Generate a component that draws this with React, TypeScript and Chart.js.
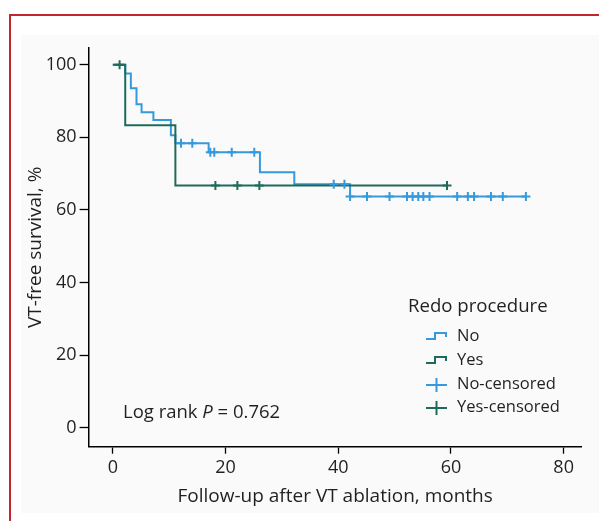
import { useEffect, useRef } from "react";
import { Chart, registerables } from "chart.js";

Chart.register(...registerables);

// ---- data (months, survival %) ----
const noTimes = [0, 2.2, 3.2, 4.2, 5.1, 7.2, 10.3, 11.1, 17.0, 26.1, 32.2, 42.1, 73.3];
const noSurvival = [100, 97.6, 93.5, 89.1, 86.9, 84.8, 80.6, 78.4, 75.9, 70.4, 67.1, 63.7, 63.7];
const yesTimes = [0, 2.2, 11.1, 59.3];
const yesSurvival = [100, 83.3, 66.7, 66.7];
const noCensoredTimes = [12.1, 14.1, 17.3, 18.0, 21.1, 25.1, 39.2, 41.1, 42.1, 45.1, 49.1, 52.2, 53.2, 54.2, 55.1, 56.2, 61.1, 63.0, 64.1, 67.1, 69.2, 73.3];
const noCensoredSurvival = [78.4, 78.4, 75.9, 75.9, 75.9, 75.9, 67.1, 67.1, 63.7, 63.7, 63.7, 63.7, 63.7, 63.7, 63.7, 63.7, 63.7, 63.7, 63.7, 63.7, 63.7, 63.7];
const yesCensoredTimes = [1.2, 18.2, 22.1, 26.0, 59.3];
const yesCensoredSurvival = [100, 66.7, 66.7, 66.7, 66.7];

const seriesNames = ["No", "Yes", "No-censored", "Yes-censored"];
const legendTitle = "Redo procedure";
const xTitle = "Follow-up after VT ablation, months";
const yTitle = "VT-free survival, %";
const pValueText = "0.762";

const BLUE = "#3699dc";
const GREEN = "#1f6b5b";
const TEXT = "#231f20";
const FONT = "'Open Sans', sans-serif";

const toPoints = (xs: number[], ys: number[]) => xs.map((x, i) => ({ x, y: ys[i] }));

const overlayPlugin = {
  id: "overlay",
  afterDatasetsDraw(chart: any) {
    const ctx = chart.ctx as CanvasRenderingContext2D;
    ctx.save();
    ctx.fillStyle = TEXT;
    ctx.textBaseline = "middle";
    ctx.textAlign = "left";
    // legend title
    ctx.font = `18.6px ${FONT}`;
    ctx.fillText(legendTitle, 408, 307);
    const rows = [336, 360, 384, 407];
    const colors = [BLUE, GREEN, BLUE, GREEN];
    ctx.font = `16.5px ${FONT}`;
    rows.forEach((y, i) => {
      ctx.strokeStyle = colors[i];
      ctx.lineWidth = 2;
      ctx.beginPath();
      if (i < 2) {
        ctx.moveTo(426, y + 3);
        ctx.lineTo(435, y + 3);
        ctx.lineTo(435, y - 3);
        ctx.lineTo(446, y - 3);
        ctx.lineTo(446, y + 1);
      } else {
        ctx.moveTo(426, y + 1);
        ctx.lineTo(447, y + 1);
        ctx.moveTo(436.5, y - 6);
        ctx.lineTo(436.5, y + 8);
      }
      ctx.stroke();
      ctx.fillStyle = TEXT;
      ctx.fillText(seriesNames[i], 457, y);
    });
    // log rank annotation
    const size = 18.5;
    ctx.font = `${size}px ${FONT}`;
    let x = 123;
    const y = 413;
    const a = "Log rank ";
    ctx.fillText(a, x, y);
    x += ctx.measureText(a).width;
    ctx.font = `italic ${size}px ${FONT}`;
    ctx.fillText("P", x, y);
    x += ctx.measureText("P").width;
    ctx.font = `${size}px ${FONT}`;
    ctx.fillText(" = " + pValueText, x, y);
    ctx.restore();
  },
};

export default function App() {
  const ref = useRef<HTMLCanvasElement | null>(null);
  useEffect(() => {
    if (!ref.current) return;
    const chart = new Chart(ref.current, {
      type: "line",
      data: {
        datasets: [
          {
            label: seriesNames[0],
            data: toPoints(noTimes, noSurvival),
            borderColor: BLUE,
            borderWidth: 2,
            stepped: "before",
            pointRadius: 0,
            fill: false,
            order: 2,
          },
          {
            label: seriesNames[1],
            data: toPoints(yesTimes, yesSurvival),
            borderColor: GREEN,
            borderWidth: 2,
            stepped: "before",
            pointRadius: 0,
            fill: false,
            order: 1,
          },
          {
            type: "scatter",
            label: seriesNames[2],
            data: toPoints(noCensoredTimes, noCensoredSurvival),
            borderColor: BLUE,
            backgroundColor: BLUE,
            pointStyle: "cross",
            pointRadius: 4.5,
            borderWidth: 2,
            showLine: false,
            order: 0,
          } as any,
          {
            type: "scatter",
            label: seriesNames[3],
            data: toPoints(yesCensoredTimes, yesCensoredSurvival),
            borderColor: GREEN,
            backgroundColor: GREEN,
            pointStyle: "cross",
            pointRadius: 4.5,
            borderWidth: 2,
            showLine: false,
            order: 0,
          } as any,
        ],
      },
      options: {
        animation: false,
        responsive: false,
        layout: { padding: { left: 0, top: 48, right: 17.3, bottom: 0 } },
        plugins: { legend: { display: false }, tooltip: { enabled: false } },
        scales: {
          x: {
            type: "linear",
            min: -4.3,
            max: 83.2,
            afterFit: (s: any) => {
              s.height = 74.3;
            },
            border: { display: true, color: "#000", width: 1.5 },
            grid: { display: true, drawOnChartArea: false, drawTicks: true, tickLength: 7, tickColor: "#000", tickWidth: 1.3 },
            ticks: { stepSize: 20, includeBounds: false, color: TEXT, padding: 3, font: { family: FONT, size: 18 } },
            title: { display: true, text: xTitle, color: TEXT, font: { family: FONT, size: 19 }, padding: { top: 0, bottom: 13.2 } },
          },
          y: {
            type: "linear",
            min: -5.2,
            max: 104.6,
            afterFit: (s: any) => {
              s.width = 88.6;
            },
            border: { display: true, color: "#000", width: 1.5 },
            grid: { display: true, drawOnChartArea: false, drawTicks: true, tickLength: 9, tickColor: "#000", tickWidth: 1.3 },
            ticks: { stepSize: 20, includeBounds: false, color: TEXT, padding: 3, font: { family: FONT, size: 18 } },
            title: { display: true, text: yTitle, color: TEXT, font: { family: FONT, size: 19 }, padding: { top: 24.6, bottom: 0 } },
          },
        },
      },
      plugins: [overlayPlugin],
    } as any);
    return () => chart.destroy();
  }, []);

  return (
    <div style={{ position: "fixed", left: 0, top: 0, width: 599, height: 521, overflow: "hidden", background: "#fff" }}>
      <div style={{ position: "absolute", left: 9, top: 14, width: 620, height: 540, borderTop: "2px solid #c1272d", borderLeft: "2px solid #c1272d" }} />
      <div style={{ position: "absolute", left: 21, top: 35, width: 600, height: 478, background: "#fafafa" }} />
      <canvas ref={ref} width={599} height={521} style={{ position: "absolute", left: 0, top: 0, width: 599, height: 521 }} />
    </div>
  );
}
